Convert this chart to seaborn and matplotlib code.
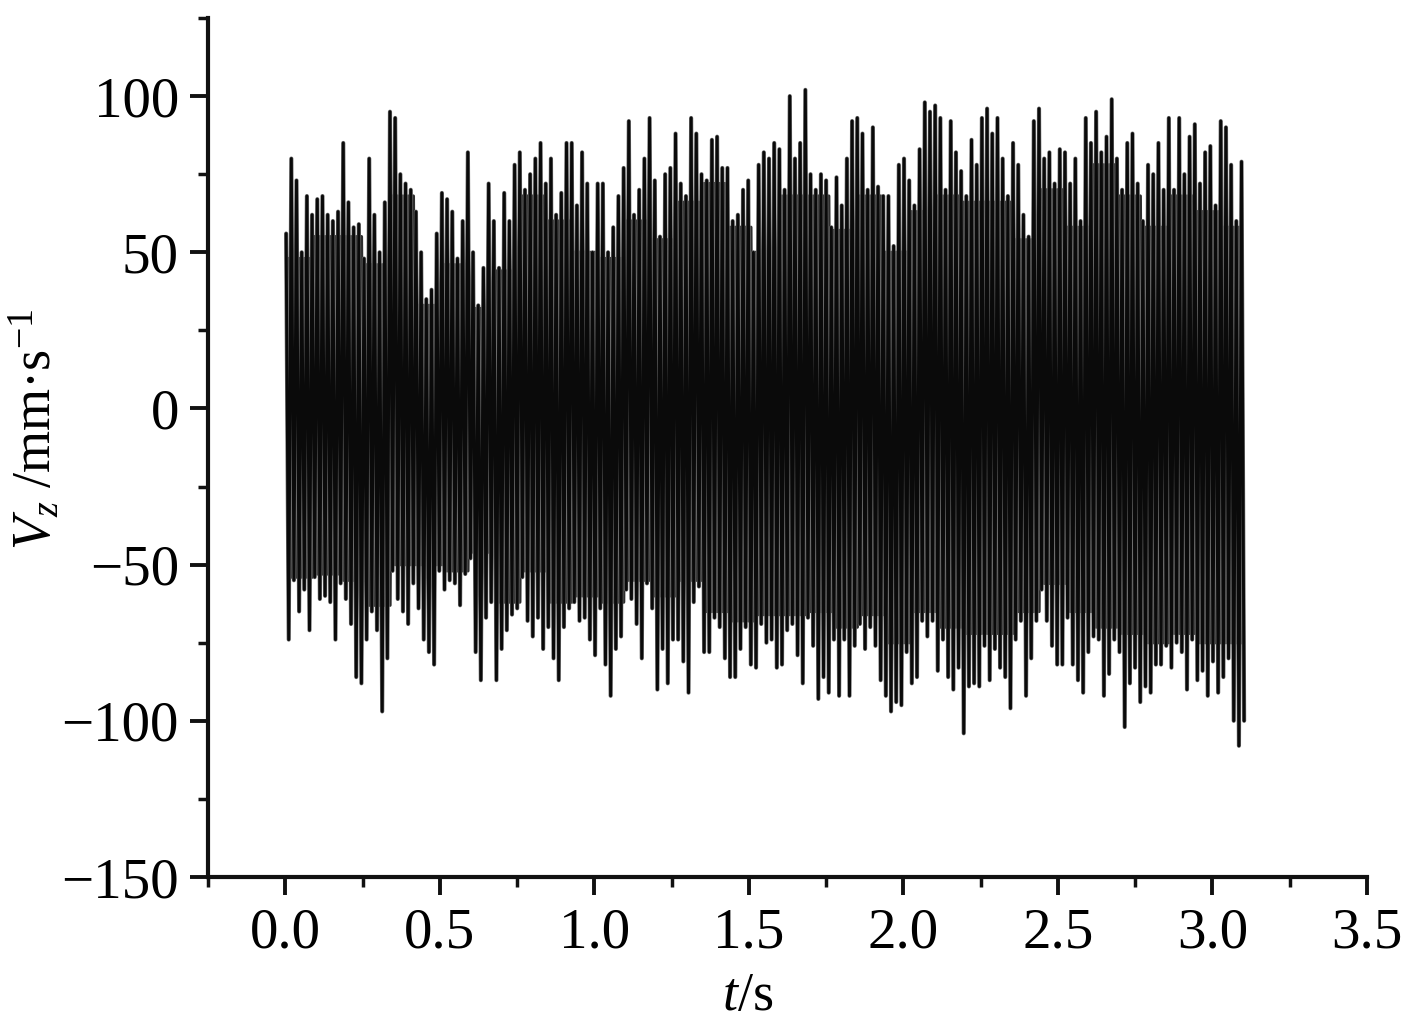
import numpy as np
import pandas as pd
import seaborn as sns
import matplotlib.pyplot as plt
from matplotlib.ticker import MultipleLocator

# velocity peaks, one pair per oscillation
upper = [56, 80, 73, 50, 68, 62, 67, 68, 62, 60, 63, 85, 66, 58, 59, 48, 80, 62, 50, 66,
         95, 93, 75, 72, 70, 63, 50, 35, 38, 56, 69, 67, 63, 48, 60, 82, 50, 33, 45, 72,
         60, 45, 69, 60, 78, 82, 70, 75, 80, 85, 72, 80, 62, 69, 85, 85, 65, 82, 72, 50,
         72, 72, 50, 58, 68, 77, 92, 62, 70, 80, 93, 73, 55, 75, 77, 88, 72, 68, 93, 88,
         75, 73, 86, 87, 77, 77, 60, 62, 70, 73, 50, 78, 82, 80, 85, 83, 70, 100, 80, 85,
         102, 75, 70, 75, 73, 58, 74, 65, 80, 92, 93, 88, 70, 90, 71, 68, 68, 52, 78, 80,
         73, 65, 83, 98, 95, 97, 93, 70, 92, 82, 76, 68, 86, 78, 93, 96, 88, 93, 80, 68,
         85, 78, 62, 55, 92, 96, 80, 82, 72, 83, 82, 72, 80, 60, 93, 85, 95, 82, 87, 99,
         80, 70, 85, 88, 72, 60, 78, 75, 85, 70, 93, 70, 93, 75, 87, 91, 72, 82, 84, 65,
         92, 90, 78, 60, 79]
lower = [-74, -55, -65, -58, -71, -54, -61, -60, -62, -74, -56, -61, -69, -86, -88, -74, -65, -71, -97, -80,
         -52, -61, -65, -69, -56, -64, -74, -78, -82, -52, -58, -55, -56, -63, -53, -48, -78, -87, -67, -62,
         -87, -77, -71, -66, -64, -54, -68, -73, -67, -77, -70, -80, -87, -70, -64, -62, -68, -67, -74, -79,
         -64, -82, -92, -77, -73, -58, -61, -69, -80, -56, -64, -90, -77, -88, -74, -74, -81, -91, -62, -57,
         -78, -78, -67, -70, -80, -86, -86, -77, -70, -82, -83, -69, -75, -74, -83, -82, -71, -69, -79, -88,
         -67, -76, -93, -86, -91, -74, -92, -74, -92, -76, -69, -77, -70, -76, -87, -92, -97, -94, -95, -78,
         -88, -86, -68, -73, -68, -84, -74, -86, -90, -83, -104, -89, -88, -89, -76, -87, -77, -83, -86, -96,
         -74, -68, -92, -80, -68, -58, -68, -76, -82, -82, -67, -82, -87, -91, -78, -73, -74, -92, -85, -74,
         -78, -102, -88, -83, -94, -89, -91, -82, -82, -76, -83, -75, -78, -90, -74, -87, -84, -92, -81, -91,
         -86, -80, -100, -108, -100]
# level of the solid body between the spikes, one value per five oscillations
body_upper = [48, 55, 55, 46, 68, 33, 46, 32, 44, 68, 60, 50, 48, 60, 54, 66, 72, 58, 50,
              68, 68, 57, 68, 50, 63, 68, 66, 66, 54, 70, 58, 78, 68, 58, 68, 63, 58]
body_lower = [-54, -53, -55, -63, -50, -50, -52, -46, -62, -52, -62, -60, -62, -55, -60, -55, -65, -68, -66,
              -66, -65, -70, -66, -75, -65, -70, -72, -72, -65, -56, -65, -70, -72, -75, -72, -75, -75]
t_start = 0.007
t_step = 0.0168

x_ticks = [0.0, 0.5, 1.0, 1.5, 2.0, 2.5, 3.0, 3.5]
y_ticks = [-150, -100, -50, 0, 50, 100]
y_labels = ['\u2212150', '\u2212100', '\u221250', '0', '50', '100']

sns.set_theme(style='ticks')
plt.rcParams['font.family'] = ['Liberation Serif', 'DejaVu Serif']
plt.rcParams['mathtext.fontset'] = 'custom'
plt.rcParams['mathtext.rm'] = 'Liberation Serif'
plt.rcParams['mathtext.it'] = 'Liberation Serif:italic'
plt.rcParams['axes.unicode_minus'] = True


def zigzag(tops, bottoms, shift):
    # up to the top value, down to the bottom one, once per sample
    k = np.arange(len(tops)) + shift
    t = np.ravel(np.column_stack([t_start + k * t_step - t_step / 4, t_start + k * t_step + t_step / 4]))
    v = np.ravel(np.column_stack([tops, bottoms]))
    return pd.DataFrame({'t': t, 'v': v})


df = zigzag(upper, lower, 0)
df_body = zigzag(np.repeat(body_upper, 5)[:-1], np.repeat(body_lower, 5)[:-1], 0.5)

fig = plt.figure(figsize=(14.17, 10.23), dpi=100)
ax = fig.add_axes([208 / 1417, 1 - 877 / 1023, 1159 / 1417, 859 / 1023])

# wide grey under a narrower black gives the soft look of the scan
sns.lineplot(data=df_body, x='t', y='v', sort=False, estimator=None, color='#2e2e2e', lw=2.4, ax=ax)
sns.lineplot(data=df, x='t', y='v', sort=False, estimator=None, color='#6e6e6e', lw=3.0, ax=ax)
sns.lineplot(data=df, x='t', y='v', sort=False, estimator=None, color='#0a0a0a', lw=2.1, ax=ax)

ax.set_xlim(-0.25, 3.5)
ax.set_ylim(-150, 125)
ax.set_xticks(x_ticks)
ax.set_xticklabels([f'{x:.1f}' for x in x_ticks])
ax.set_yticks(y_ticks)
ax.set_yticklabels(y_labels)
ax.xaxis.set_minor_locator(MultipleLocator(0.25))
ax.yaxis.set_minor_locator(MultipleLocator(25))

ax.tick_params(axis='both', which='major', length=13, width=2.8, labelsize=41, color='#111111', labelcolor='black')
ax.tick_params(axis='both', which='minor', length=7.5, width=2.5, color='#111111')
ax.tick_params(axis='x', which='major', pad=9)
ax.tick_params(axis='y', which='major', pad=8)

sns.despine(ax=ax)
for side in ['left', 'bottom']:
    ax.spines[side].set_linewidth(3)
    ax.spines[side].set_color('#111111')

ax.set_xlabel('$\\mathit{t}$/s', fontsize=39, color='black')
ax.set_ylabel('$\\mathit{V}_{\\mathit{z}}$ /mm\u00b7s$^{-1}$', fontsize=39, color='black')
ax.xaxis.set_label_coords((748 - 208) / 1159, -(997 - 877) / 859, transform=ax.transAxes)
ax.xaxis.label.set_va('center')
ax.yaxis.set_label_coords(-(208 - 36) / 1159, (877 - 429) / 859, transform=ax.transAxes)
ax.yaxis.label.set_va('center')

fig.savefig('out.png', dpi=100)
